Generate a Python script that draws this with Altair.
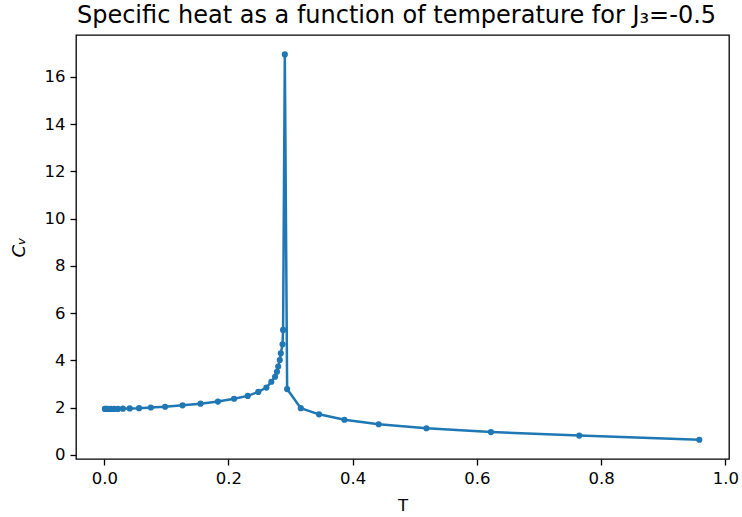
import altair as alt
import pandas as pd

T = [0.001, 0.002, 0.004, 0.007, 0.011, 0.016, 0.022, 0.030, 0.041, 0.056, 0.075,
     0.098, 0.126, 0.155, 0.183, 0.209, 0.231, 0.248, 0.261, 0.269, 0.275, 0.278,
     0.280, 0.2826, 0.2842, 0.287, 0.2879, 0.2907, 0.2944, 0.3164, 0.3458, 0.3867,
     0.4418, 0.5186, 0.6225, 0.7647, 0.958]
Cv = [1.95, 1.95, 1.95, 1.95, 1.95, 1.95, 1.95, 1.96, 1.97, 1.98, 2.01,
      2.04, 2.10, 2.17, 2.26, 2.38, 2.50, 2.67, 2.85, 3.10, 3.31, 3.52,
      3.74, 4.02, 4.30, 4.68, 5.29, 16.95, 2.79, 1.98, 1.72, 1.49,
      1.30, 1.13, 0.97, 0.82, 0.645]

df = pd.DataFrame({"T": T, "Cv": Cv, "order": list(range(len(T)))})

FONT = "DejaVu Sans"
x = alt.X("T:Q", title="T",
          scale=alt.Scale(domain=[-0.0455, 1.0058], nice=False, zero=False),
          axis=alt.Axis(values=[0.0, 0.2, 0.4, 0.6, 0.8, 1.0], format=".1f",
                        titlePadding=11))
y = alt.Y("Cv:Q", title="Cᵥ",
          scale=alt.Scale(domain=[-0.17, 17.77], nice=False, zero=False),
          axis=alt.Axis(values=list(range(0, 17, 2)), format="d",
                        titlePadding=16, titleFontStyle="italic", titleFontSize=18))

base = alt.Chart(df).encode(x=x, y=y, order="order:Q")
line = base.mark_line(color="#1f77b4", strokeWidth=2.5)
pts = base.mark_circle(color="#1f77b4", size=38, opacity=1)

chart = (line + pts).properties(
    width=653, height=424,
    title=alt.TitleParams("Specific heat as a function of temperature for J₃=-0.5",
                          font=FONT, fontSize=24, fontWeight="normal", color="black",
                          offset=7, anchor="middle", dx=-6),
    autosize=alt.AutoSizeParams(type="none"),
    padding={"left": 76, "top": 35, "right": 13, "bottom": 58},
).configure_view(
    stroke="black", strokeWidth=1.3
).configure_axis(
    grid=False, domain=False, tickColor="black", tickWidth=1.3, tickSize=6,
    labelFont=FONT, labelFontSize=16.5, labelColor="black", labelPadding=5,
    titleFont=FONT, titleFontSize=16.5, titleFontWeight="normal", titleColor="black",
)

chart.save("out.html", embed_options={"renderer": "svg", "actions": False})
